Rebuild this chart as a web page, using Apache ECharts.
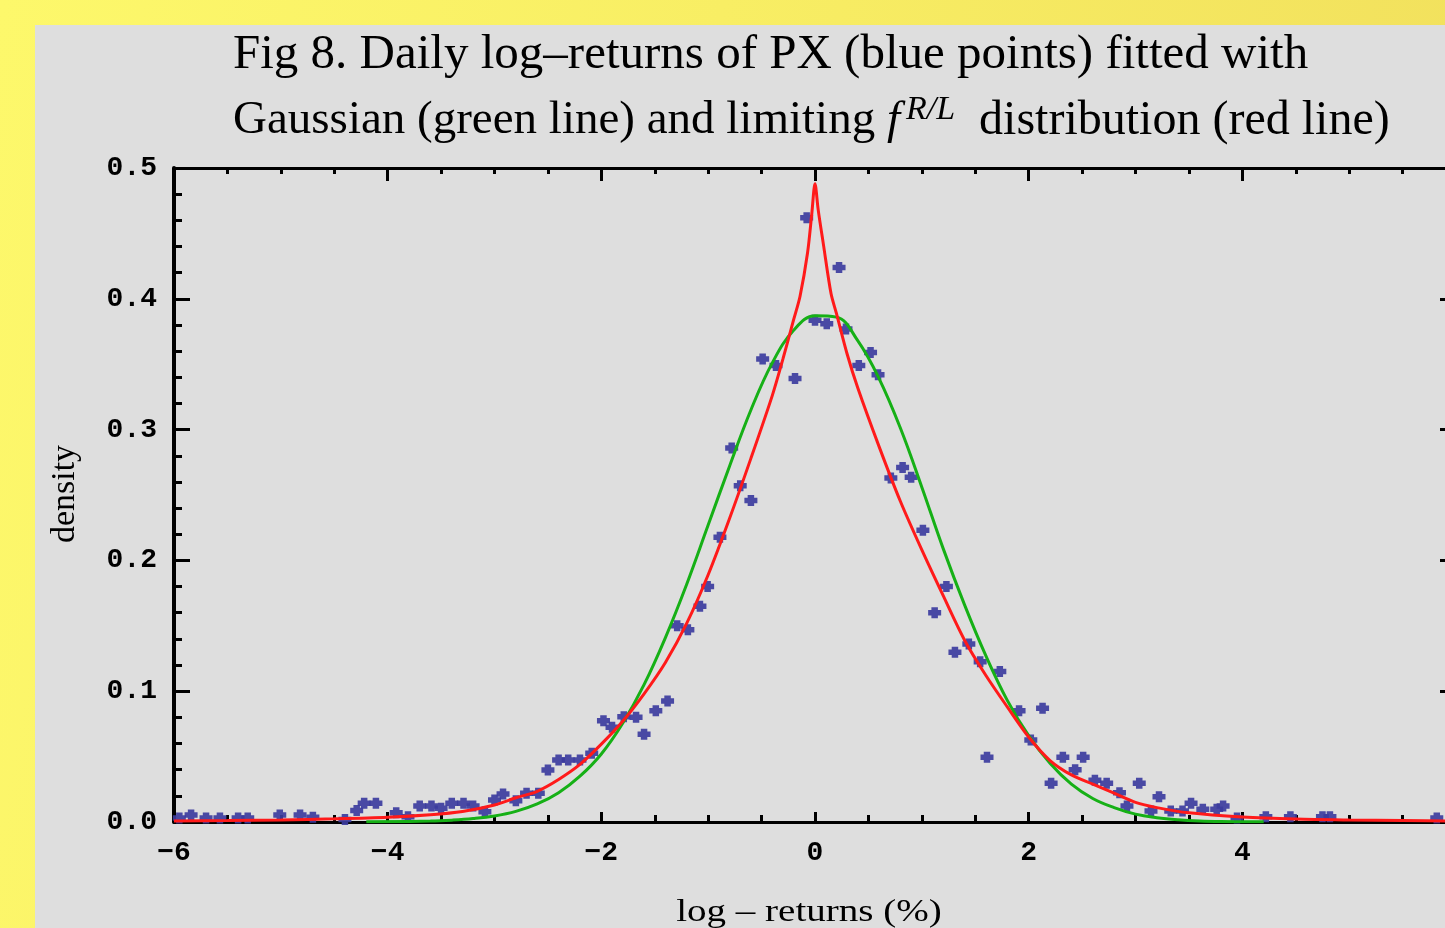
<!DOCTYPE html>
<html>
<head>
<meta charset="utf-8">
<title>Daily log-returns of PX</title>
<script src="https://cdn.jsdelivr.net/npm/echarts@6/dist/echarts.min.js"></script>
<style>
  html, body { margin: 0; padding: 0; width: 1445px; height: 928px; overflow: hidden; }
  body { background: linear-gradient(100deg, #fdf86b 0%, #f8ee64 45%, #f1df5c 100%); position: relative; }
  #panel { position: absolute; left: 35px; top: 25px; right: 0; bottom: 0; background: #dedede; }
  #chart { position: absolute; left: 0; top: 0; width: 1445px; height: 928px; }
</style>
</head>
<body>
<div id="panel"></div>
<div id="chart"></div>
<script>
// Empirical density of daily log-returns (%), one point per histogram bin
const pointX = [-5.95, -5.84, -5.70, -5.57, -5.40, -5.31, -5.01, -4.82, -4.70, -4.40,
  -4.29, -4.22, -4.11, -3.92, -3.81, -3.70, -3.59, -3.50, -3.40, -3.29,
  -3.20, -3.09, -3.00, -2.92, -2.80, -2.70, -2.59, -2.50, -2.40, -2.31,
  -2.20, -2.09, -1.98, -1.90, -1.79, -1.675, -1.60, -1.49, -1.38, -1.29,
  -1.19, -1.077, -1.005, -0.89, -0.78, -0.70, -0.60, -0.49, -0.365, -0.187,
  -0.078, 0.0, 0.11, 0.225, 0.29, 0.41, 0.52, 0.59, 0.71, 0.82,
  0.90, 1.01, 1.12, 1.23, 1.31, 1.44, 1.546, 1.61, 1.73, 1.91,
  2.02, 2.13, 2.21, 2.32, 2.435, 2.51, 2.62, 2.73, 2.85, 2.92,
  3.035, 3.145, 3.22, 3.33, 3.44, 3.52, 3.63, 3.76, 3.82, 3.95,
  4.22, 4.45, 4.75, 4.82, 5.82];
const pointY = [0.003, 0.0054, 0.003, 0.003, 0.003, 0.003, 0.0054, 0.0054, 0.0036, 0.002,
  0.0087, 0.0143, 0.0143, 0.0071, 0.004, 0.0122, 0.0122, 0.0105, 0.0143, 0.0143,
  0.0122, 0.0079, 0.0168, 0.0214, 0.0163, 0.0219, 0.0219, 0.0398, 0.0474, 0.0474,
  0.0474, 0.0525, 0.0775, 0.0724, 0.0805, 0.080, 0.067, 0.085, 0.0925, 0.150,
  0.147, 0.165, 0.180, 0.2177, 0.286, 0.257, 0.2457, 0.354, 0.349, 0.339,
  0.462, 0.3836, 0.381, 0.424, 0.377, 0.349, 0.359, 0.342, 0.263, 0.271,
  0.2635, 0.223, 0.160, 0.180, 0.1297, 0.136, 0.1226, 0.0495, 0.115, 0.0851,
  0.0627, 0.0869, 0.0296, 0.0495, 0.040, 0.0495, 0.032, 0.0296, 0.0224, 0.0122,
  0.0296, 0.0084, 0.0193, 0.0084, 0.0084, 0.0143, 0.0097, 0.0097, 0.0122, 0.003,
  0.004, 0.004, 0.004, 0.004, 0.003];

// Fitted Gaussian density (green)
const gaussX = [-4.2, -3.6, -3.4, -3.2, -3.0, -2.8, -2.6, -2.4, -2.2, -2.0,
  -1.8, -1.6, -1.4, -1.2, -1.0, -0.8, -0.6, -0.4, -0.2, 0.0,
  0.2, 0.4, 0.6, 0.8, 1.0, 1.2, 1.4, 1.6, 1.8, 2.0,
  2.2, 2.4, 2.6, 2.8, 3.0, 3.2, 3.4, 3.6, 3.8, 4.2];
const gaussY = [0.0001, 0.0007, 0.0014, 0.0026, 0.0046, 0.0081, 0.0138, 0.0224, 0.035, 0.052,
  0.0755, 0.105, 0.141, 0.182, 0.227, 0.272, 0.315, 0.351, 0.376, 0.387,
  0.386, 0.368, 0.339, 0.301, 0.256, 0.209, 0.166, 0.127, 0.093, 0.066,
  0.045, 0.029, 0.018, 0.011, 0.006, 0.0033, 0.0017, 0.0008, 0.0004, 0.0001];

// Limiting f^{R/L} density (red)
const limitX = [-6.0, -5.5, -5.0, -4.5, -4.0, -3.6, -3.3, -3.0, -2.8, -2.6,
  -2.4, -2.2, -2.0, -1.8, -1.6, -1.4, -1.2, -1.0, -0.8, -0.6,
  -0.4, -0.3, -0.2, -0.14, -0.07, -0.03, 0.0, 0.03, 0.078, 0.15,
  0.2, 0.3, 0.4, 0.6, 0.8, 1.0, 1.2, 1.4, 1.6, 1.8,
  2.0, 2.2, 2.4, 2.6, 2.8, 3.0, 3.2, 3.5, 4.0, 4.5,
  5.0, 5.5, 6.0];
const limitY = [0.0008, 0.0011, 0.0016, 0.0024, 0.0036, 0.0055, 0.0080, 0.0130, 0.0185, 0.0235,
  0.0325, 0.044, 0.0595, 0.077, 0.098, 0.122, 0.152, 0.189, 0.232, 0.278,
  0.326, 0.354, 0.384, 0.402, 0.435, 0.465, 0.488, 0.468, 0.442, 0.404,
  0.389, 0.358, 0.332, 0.287, 0.245, 0.208, 0.173, 0.139, 0.112, 0.088,
  0.065, 0.047, 0.036, 0.029, 0.022, 0.015, 0.011, 0.007, 0.0038, 0.0022,
  0.0015, 0.0011, 0.0008];

const xTicks = [-6, -4, -2, 0, 2, 4, 6];
const yTicks = [0.0, 0.1, 0.2, 0.3, 0.4, 0.5];

const serif = '"Liberation Serif", "Times New Roman", serif';
const mono = '"Liberation Mono", "Courier New", monospace';

const pair = (xs, ys) => xs.map((x, i) => [x, ys[i]]);

const chart = echarts.init(document.getElementById('chart'), null, { renderer: 'canvas' });

const frameAxis = (extra) => Object.assign({
  type: 'value',
  splitLine: { show: false },
  axisLine: { show: true, onZero: false, lineStyle: { color: '#000', width: 3 } },
  axisTick: { show: true, inside: true, lineStyle: { color: '#000', width: 3 } },
  minorTick: { show: true, lineStyle: { color: '#000', width: 3 } },
  minorSplitLine: { show: false }
}, extra);

chart.setOption({
  animation: false,
  title: [
    {
      text: 'Fig 8. Daily log\u2013returns of PX (blue points) fitted with',
      left: 233, top: 31, padding: 0,
      textStyle: { fontFamily: serif, fontSize: 49, fontWeight: 'normal', color: '#000' }
    },
    {
      text: 'Gaussian (green line) and limiting {f|f}{sup|R/L}{rest| distribution (red line)}',
      left: 233, top: 93, padding: 0,
      textStyle: {
        fontFamily: serif, fontSize: 47, fontWeight: 'normal', color: '#000',
        rich: {
          f: { fontFamily: serif, fontSize: 47, fontStyle: 'italic', color: '#000', padding: [0, 6, 0, 0] },
          sup: { fontFamily: serif, fontSize: 34, fontStyle: 'italic', color: '#000', verticalAlign: 'top', padding: [0, 12, 22, 0] },
          rest: { fontFamily: serif, fontSize: 48, color: '#000' }
        }
      }
    }
  ],
  grid: { left: 174, top: 168, right: -11, bottom: 106, containLabel: false, outerBoundsMode: 'none' },
  xAxis: [
    frameAxis({
      position: 'bottom', min: -6, max: 6, interval: 2,
      axisTick: { show: true, inside: true, length: 10, lineStyle: { color: '#000', width: 3 } },
      minorTick: { show: true, splitNumber: 4, length: 7, lineStyle: { color: '#000', width: 3 } },
      axisLabel: {
        show: true, margin: 17, color: '#000', fontFamily: mono, fontSize: 28, fontWeight: 'bold',
        formatter: v => (v < 0 ? '\u2212' + Math.abs(v) : String(v)),
        customValues: xTicks
      }
    }),
    frameAxis({
      position: 'top', min: -6, max: 6, interval: 2,
      axisTick: { show: true, inside: true, length: 13, lineStyle: { color: '#000', width: 3 } },
      minorTick: { show: true, splitNumber: 4, length: 6, lineStyle: { color: '#000', width: 3 } },
      axisLabel: { show: false }
    })
  ],
  yAxis: [
    frameAxis({
      position: 'left', min: 0, max: 0.5, interval: 0.1,
      axisLine: { show: true, onZero: false, lineStyle: { color: '#000', width: 4 } },
      axisTick: { show: true, inside: true, length: 16, lineStyle: { color: '#000', width: 3 } },
      minorTick: { show: true, splitNumber: 5, length: 8, lineStyle: { color: '#000', width: 3 } },
      axisLabel: {
        show: true, margin: 17, color: '#000', fontFamily: mono, fontSize: 28, fontWeight: 'bold',
        formatter: v => v.toFixed(1),
        customValues: yTicks
      }
    }),
    frameAxis({
      position: 'right', min: 0, max: 0.5, interval: 0.1,
      axisTick: { show: true, inside: true, length: 16, lineStyle: { color: '#000', width: 3 } },
      minorTick: { show: true, splitNumber: 5, length: 8, lineStyle: { color: '#000', width: 3 } },
      axisLabel: { show: false }
    })
  ],
  graphic: [
    {
      type: 'text', x: 65, y: 494, rotation: Math.PI / 2,
      style: { text: 'density', font: '34px ' + serif, fill: '#000', align: 'center', verticalAlign: 'middle' }
    },
    {
      type: 'text', x: 809, y: 913, scaleX: 1.22,
      style: { text: 'log \u2013 returns (%)', font: '32px ' + serif, fill: '#000', align: 'center', verticalAlign: 'middle' }
    }
  ],
  series: [
    {
      type: 'scatter', name: 'PX',
      data: pair(pointX, pointY),
      symbol: 'path://M3,0H9V3H12V9H9V12H3V9H0V3H3Z',
      symbolSize: [13, 11],
      itemStyle: { color: '#3c3c9e', opacity: 0.92 },
      z: 2
    },
    {
      type: 'line', name: 'Gaussian',
      data: pair(gaussX, gaussY),
      showSymbol: false, symbol: 'none', smooth: 0.4, clip: true,
      lineStyle: { color: '#16b016', width: 3 },
      z: 3
    },
    {
      type: 'line', name: 'limiting f R/L',
      data: pair(limitX, limitY),
      showSymbol: false, symbol: 'none', smooth: 0.3, clip: true,
      lineStyle: { color: '#ff1a1a', width: 3 },
      z: 4
    }
  ]
});
</script>
</body>
</html>
